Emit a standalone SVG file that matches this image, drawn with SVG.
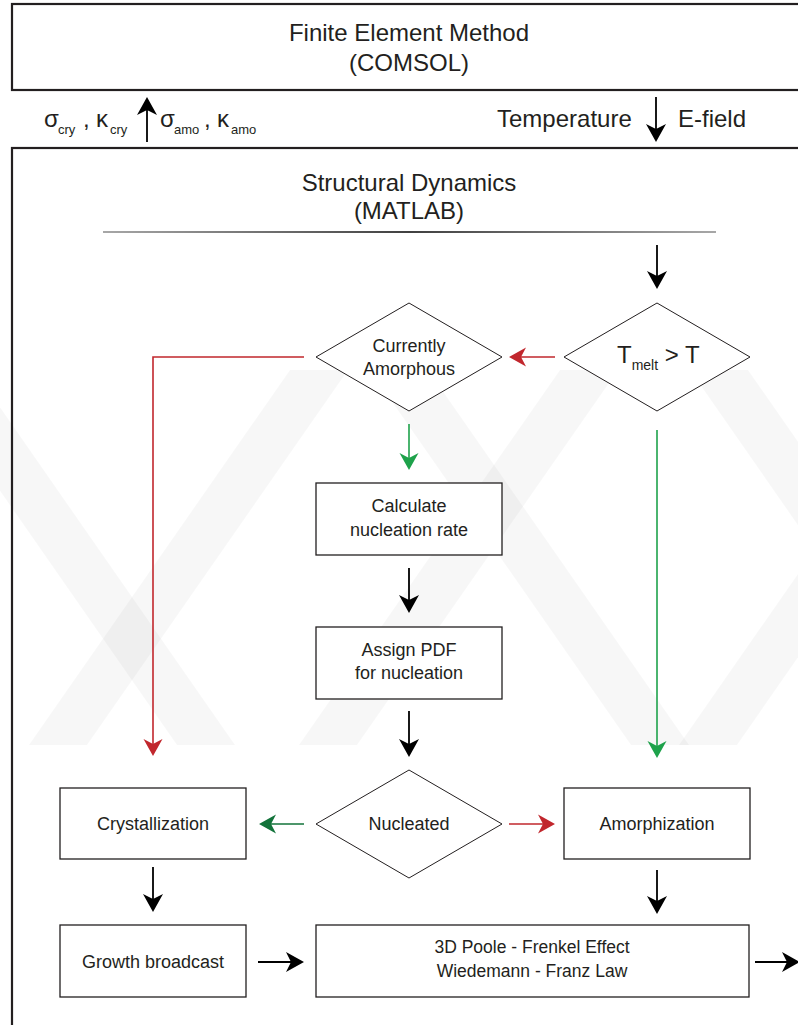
<svg xmlns="http://www.w3.org/2000/svg" width="798" height="1025" viewBox="0 0 798 1025">
<style>
  text { font-family: "Liberation Sans", Arial, sans-serif; fill: #231f20; }
  .t24 { font-size: 24px; }
  .n18 { font-size: 18px; text-anchor: middle; }
  .mid { text-anchor: middle; }
  .box { fill: #fff; stroke: #231f20; stroke-width: 1.3; }
  .dia { fill: #fff; stroke: #231f20; stroke-width: 1; }
  .frame { fill: none; stroke: #231f20; stroke-width: 2.2; }
  .ck { fill: none; stroke: #000; stroke-width: 1.8; }
  .cr { fill: none; stroke: #c1272d; stroke-width: 1.6; }
  .cg { fill: none; stroke: #1ea24b; stroke-width: 1.6; }
  .cdg { fill: none; stroke: #12733a; stroke-width: 1.6; }
  .wm { fill: #000; fill-opacity: 0.03; }
</style>
<defs>
  <marker id="ak" markerUnits="userSpaceOnUse" markerWidth="22" markerHeight="24" viewBox="-20 -12 22 24" refX="-8" refY="0" orient="auto">
    <path d="M-18,-10 L0,0 L-18,10 L-13,0 Z" fill="#000"/>
  </marker>
  <marker id="ar" markerUnits="userSpaceOnUse" markerWidth="22" markerHeight="24" viewBox="-20 -12 22 24" refX="-8" refY="0" orient="auto">
    <path d="M-17,-9.5 L0,0 L-17,9.5 L-12,0 Z" fill="#c1272d"/>
  </marker>
  <marker id="ag" markerUnits="userSpaceOnUse" markerWidth="22" markerHeight="24" viewBox="-20 -12 22 24" refX="-8" refY="0" orient="auto">
    <path d="M-17,-9.5 L0,0 L-17,9.5 L-12,0 Z" fill="#1ea24b"/>
  </marker>
  <marker id="adg" markerUnits="userSpaceOnUse" markerWidth="22" markerHeight="24" viewBox="-20 -12 22 24" refX="-8" refY="0" orient="auto">
    <path d="M-17,-9.5 L0,0 L-17,9.5 L-12,0 Z" fill="#12733a"/>
  </marker>
  <linearGradient id="rule" x1="103" y1="0" x2="716" y2="0" gradientUnits="userSpaceOnUse">
    <stop offset="0" stop-color="#8a8a8a"/>
    <stop offset="0.5" stop-color="#000"/>
    <stop offset="1" stop-color="#8a8a8a"/>
  </linearGradient>
</defs>

<!-- faint background watermark -->
<g id="watermark">
  <polygon class="wm" points="-84,370 -26,370 235,745 177,745"/>
  <polygon class="wm" points="290,370 348,370 87,745 29,745"/>
  <polygon class="wm" points="560,370 618,370 357,745 299,745"/>
  <polygon class="wm" points="370,370 428,370 689,745 631,745"/>
  <polygon class="wm" points="690,370 748,370 1009,745 951,745"/>
  <polygon class="wm" points="940,370 998,370 737,745 679,745"/>
</g>

<g id="fem">
  <rect class="frame" x="12" y="4" width="800" height="86"/>
  <text class="t24 mid" x="409" y="41">Finite Element Method</text>
  <text class="t24 mid" x="409" y="71">(COMSOL)</text>
</g>

<g id="exchange-labels">
  <text class="t24"><tspan x="44" y="127">σ</tspan><tspan x="58" y="134" font-size="13">cry</tspan><tspan x="83" y="127">,</tspan><tspan x="96" y="127">κ</tspan><tspan x="110" y="134" font-size="13">cry</tspan></text>
  <text class="t24"><tspan x="160" y="127">σ</tspan><tspan x="174" y="134" font-size="13">amo</tspan><tspan x="204" y="127">,</tspan><tspan x="217" y="127">κ</tspan><tspan x="231" y="134" font-size="13">amo</tspan></text>
  <text class="t24" x="497" y="127">Temperature</text>
  <text class="t24" x="678" y="127">E-field</text>
</g>

<g id="md">
  <rect class="frame" x="12" y="148" width="800" height="900"/>
  <text class="t24 mid" x="409" y="191">Structural Dynamics</text>
  <text class="t24 mid" x="409" y="219">(MATLAB)</text>
  <line x1="103" y1="232" x2="716" y2="232" stroke="url(#rule)" stroke-width="1.3"/>
</g>

<g id="node-tmelt">
  <polygon class="dia" points="657,303 750,357 657,411 564,357"/>
  <text x="617" y="363" font-size="24">T<tspan font-size="14" dy="7">melt</tspan><tspan dy="-7"> &gt; T</tspan></text>
</g>

<g id="node-currently">
  <polygon class="dia" points="409,303 502,357 409,411 316,357"/>
  <text class="n18" x="409" y="352">Currently</text>
  <text class="n18" x="409" y="375">Amorphous</text>
</g>

<g id="node-calc">
  <rect class="box" x="316" y="483" width="186" height="72"/>
  <text class="n18" x="409" y="512">Calculate</text>
  <text class="n18" x="409" y="536">nucleation rate</text>
</g>

<g id="node-pdf">
  <rect class="box" x="316" y="627" width="186" height="72"/>
  <text class="n18" x="409" y="656">Assign PDF</text>
  <text class="n18" x="409" y="679">for nucleation</text>
</g>

<g id="node-nucleated">
  <polygon class="dia" points="409,770 502,824 409,878 316,824"/>
  <text class="n18" x="409" y="830">Nucleated</text>
</g>

<g id="node-cryst">
  <rect class="box" x="60" y="788" width="186" height="71"/>
  <text class="n18" x="153" y="830">Crystallization</text>
</g>

<g id="node-amorph">
  <rect class="box" x="564" y="788" width="186" height="71"/>
  <text class="n18" x="657" y="830">Amorphization</text>
</g>

<g id="node-growth">
  <rect class="box" x="60" y="925" width="186" height="72"/>
  <text class="n18" x="153" y="968">Growth broadcast</text>
</g>

<g id="node-poole">
  <rect class="box" x="316" y="925" width="433" height="72"/>
  <text class="mid" font-size="17.5" x="532" y="953">3D Poole - Frenkel Effect</text>
  <text class="mid" font-size="17.5" x="532" y="977">Wiedemann - Franz Law</text>
</g>

<g id="connectors">
  <line class="ck" x1="147" y1="142" x2="147" y2="105" marker-end="url(#ak)"/>
  <line class="ck" x1="656" y1="97" x2="656" y2="134" stroke-width="1.5" marker-end="url(#ak)"/>
  <line class="ck" x1="657" y1="245" x2="657" y2="281" marker-end="url(#ak)"/>
  <line class="cr" x1="555" y1="357" x2="517" y2="357" marker-end="url(#ar)"/>
  <path class="cr" d="M304,357 H153 V748" marker-end="url(#ar)"/>
  <line class="cg" x1="409" y1="424" x2="409" y2="462" marker-end="url(#ag)"/>
  <line class="cg" x1="657" y1="430" x2="657" y2="750" marker-end="url(#ag)"/>
  <line class="ck" x1="409" y1="568" x2="409" y2="605" marker-end="url(#ak)"/>
  <line class="ck" x1="409" y1="711" x2="409" y2="749" marker-end="url(#ak)"/>
  <line class="cdg" x1="304" y1="824" x2="267" y2="824" marker-end="url(#adg)"/>
  <line class="cr" x1="509" y1="824" x2="547" y2="824" marker-end="url(#ar)"/>
  <line class="ck" x1="153" y1="867" x2="153" y2="904" marker-end="url(#ak)"/>
  <line class="ck" x1="657" y1="870" x2="657" y2="906" marker-end="url(#ak)"/>
  <line class="ck" x1="258" y1="962" x2="296" y2="962" marker-end="url(#ak)"/>
  <line class="ck" x1="755" y1="962" x2="792" y2="962" marker-end="url(#ak)"/>
</g>
</svg>
